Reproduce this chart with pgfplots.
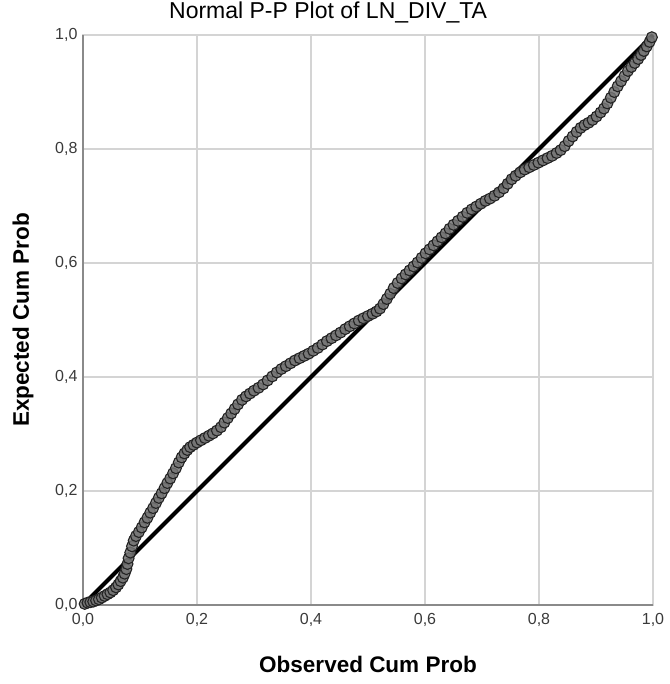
\documentclass[border=0pt]{standalone}
\usepackage{fontspec}
\setmainfont{Liberation Sans}
\usepackage{pgfplots}
\pgfplotsset{compat=1.18}
\definecolor{gridgray}{HTML}{D4D4D4}
\definecolor{framegray}{HTML}{8A8A8A}
\definecolor{dotfill}{HTML}{747474}
\definecolor{dotedge}{HTML}{232323}
\definecolor{ticktext}{HTML}{3A3A3A}
\begin{document}
\begin{tikzpicture}
\begin{axis}[
  scale only axis,
  width=570pt,
  height=570pt,
  xmin=0, xmax=1,
  ymin=0, ymax=1,
  xtick={0,0.2,0.4,0.6,0.8,1},
  ytick={0,0.2,0.4,0.6,0.8,1},
  major tick length=0pt,
  grid=major,
  major grid style={gridgray, line width=1.3pt},
  axis line style={gridgray, line width=1.3pt},
  /pgf/number format/.cd, use comma, fixed, fixed zerofill, precision=1, assume math mode=true,
  /pgfplots/.cd,
  tick label style={font=\fontsize{16}{18}\selectfont, text=ticktext},
  xticklabel style={yshift=-5pt},
  yticklabel style={xshift=-2pt},
  title={Normal P-P Plot of LN\_DIV\_TA},
  title style={font=\fontsize{23}{26}\selectfont, at={(0.43,1)}, anchor=base, yshift=10pt},
  xlabel={Observed Cum Prob},
  xlabel style={font=\bfseries\fontsize{22.5}{26}\selectfont, at={(0.5,0)}, anchor=base, yshift=-67pt},
  ylabel={Expected Cum Prob},
  ylabel style={font=\bfseries\fontsize{22.5}{26}\selectfont, at={(0,0.5)}, anchor=base, yshift=54pt},
  clip=false,
]
\coordinate (sw) at (rel axis cs:0,0);
\coordinate (ne) at (rel axis cs:1,1);
\draw[framegray, line width=1.3pt] (rel axis cs:0,1) -- (rel axis cs:0,0) -- (rel axis cs:1,0);
\addplot[only marks, mark=*, mark size=5.5pt,
  mark options={fill=dotfill, draw=dotedge, line width=1.1pt, fill opacity=0.85}]
coordinates {
(0.003,0.002)(0.008,0.004)(0.013,0.005)(0.018,0.006)(0.023,0.008)(0.028,0.010)
(0.033,0.013)(0.038,0.016)(0.043,0.019)(0.048,0.022)(0.053,0.026)(0.058,0.031)
(0.062,0.036)(0.066,0.042)(0.070,0.048)(0.073,0.055)(0.076,0.063)(0.078,0.072)
(0.080,0.082)(0.083,0.092)(0.086,0.103)(0.089,0.113)(0.093,0.121)(0.098,0.128)
(0.103,0.136)(0.108,0.145)(0.113,0.153)(0.118,0.162)(0.123,0.170)(0.128,0.179)
(0.133,0.188)(0.138,0.196)(0.143,0.205)(0.148,0.214)(0.153,0.222)(0.158,0.231)
(0.163,0.240)(0.168,0.250)(0.173,0.259)(0.178,0.266)(0.183,0.272)(0.188,0.277)
(0.194,0.281)(0.200,0.285)(0.207,0.289)(0.214,0.293)(0.221,0.297)(0.228,0.301)
(0.235,0.306)(0.242,0.312)(0.248,0.320)(0.254,0.328)(0.260,0.336)(0.266,0.344)
(0.272,0.352)(0.279,0.360)(0.286,0.366)(0.293,0.371)(0.300,0.376)(0.308,0.381)
(0.316,0.387)(0.324,0.394)(0.332,0.401)(0.340,0.408)(0.348,0.414)(0.356,0.419)
(0.364,0.424)(0.372,0.429)(0.380,0.433)(0.388,0.437)(0.396,0.441)(0.404,0.446)
(0.412,0.451)(0.420,0.457)(0.428,0.463)(0.436,0.468)(0.444,0.473)(0.452,0.478)
(0.460,0.484)(0.468,0.489)(0.476,0.494)(0.484,0.499)(0.492,0.503)(0.500,0.507)
(0.508,0.511)(0.515,0.515)(0.521,0.520)(0.527,0.528)(0.533,0.537)(0.539,0.546)
(0.545,0.556)(0.552,0.565)(0.559,0.573)(0.566,0.580)(0.573,0.587)(0.580,0.594)
(0.587,0.601)(0.594,0.609)(0.601,0.617)(0.608,0.624)(0.615,0.631)(0.622,0.638)
(0.629,0.645)(0.636,0.652)(0.643,0.660)(0.650,0.667)(0.658,0.674)(0.666,0.681)
(0.674,0.688)(0.682,0.694)(0.690,0.699)(0.698,0.704)(0.706,0.709)(0.714,0.713)
(0.722,0.718)(0.730,0.724)(0.738,0.731)(0.745,0.739)(0.752,0.747)(0.759,0.753)
(0.767,0.759)(0.775,0.764)(0.783,0.768)(0.791,0.772)(0.799,0.776)(0.807,0.780)
(0.815,0.784)(0.823,0.788)(0.831,0.793)(0.838,0.798)(0.845,0.805)(0.852,0.814)
(0.859,0.822)(0.866,0.830)(0.873,0.837)(0.880,0.842)(0.887,0.846)(0.894,0.851)
(0.901,0.857)(0.908,0.864)(0.914,0.871)(0.920,0.880)(0.926,0.890)(0.932,0.900)
(0.938,0.910)(0.944,0.919)(0.950,0.928)(0.956,0.937)(0.962,0.944)(0.968,0.951)
(0.974,0.958)(0.979,0.965)(0.984,0.972)(0.989,0.980)(0.994,0.988)(0.998,0.996)
};
\addplot[black, line width=4pt] coordinates {(0,0) (1,1)};
\end{axis}
\pgfresetboundingbox
\path[use as bounding box] ([shift={(-83pt,-79pt)}]sw) rectangle ([shift={(16pt,35pt)}]ne);
\end{tikzpicture}
\end{document}
